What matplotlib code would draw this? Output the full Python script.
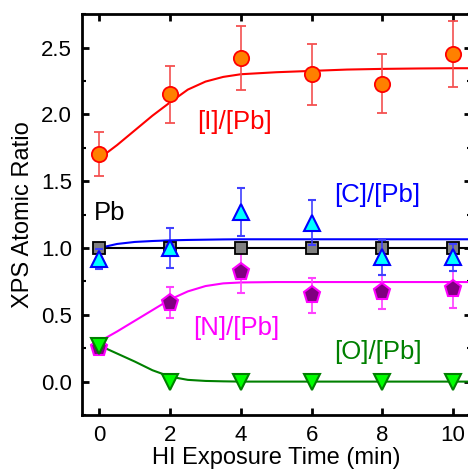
import numpy as np
import matplotlib.pyplot as plt

plt.rcParams['font.family'] = ['Liberation Sans', 'DejaVu Sans']

# measured points
time = [0, 2, 4, 6, 8, 10]
i_pb = [1.70, 2.15, 2.42, 2.30, 2.23, 2.45]
i_err = [0.165, 0.215, 0.24, 0.23, 0.22, 0.245]
c_pb = [0.92, 1.00, 1.27, 1.19, 0.93, 0.93]
c_err = [0.075, 0.15, 0.18, 0.17, 0.13, 0.10]
pb_pb = [1.0, 1.0, 1.0, 1.0, 1.0, 1.0]
n_pb = [0.25, 0.59, 0.82, 0.645, 0.67, 0.69]
n_err = [0.03, 0.115, 0.155, 0.13, 0.13, 0.14]
o_pb = [0.27, 0.0, 0.0, 0.0, 0.0, 0.0]

# fit curves
fit_t = [0, 0.5, 1, 1.5, 2, 2.5, 3, 3.5, 4, 5, 6, 7, 8, 9, 10, 10.6]
i_fit = [1.67, 1.77, 1.88, 1.99, 2.09, 2.185, 2.245, 2.28, 2.30, 2.315,
         2.325, 2.335, 2.34, 2.343, 2.345, 2.345]
c_fit = [1.0, 1.03, 1.045, 1.052, 1.057, 1.060, 1.062, 1.064, 1.065, 1.065,
         1.065, 1.065, 1.065, 1.065, 1.065, 1.065]
pb_fit = [1.0] * len(fit_t)
n_fit = [0.30, 0.375, 0.455, 0.535, 0.615, 0.675, 0.715, 0.735, 0.742, 0.745,
         0.745, 0.745, 0.745, 0.745, 0.745, 0.745]
o_fit = [0.27, 0.21, 0.15, 0.085, 0.037, 0.013, 0.005, 0.002, 0.0, 0.0,
         0.0, 0.0, 0.0, 0.0, 0.0, 0.0]

fig = plt.figure(figsize=(4.68, 4.70), dpi=100)
ax = fig.add_axes([0.1746, 0.117, 0.8314, 0.853])

# fits
ax.plot(fit_t, pb_fit, color='black', lw=1.5, zorder=2)
ax.plot(fit_t, c_fit, color='#0000ff', lw=1.5, zorder=2)
ax.plot(fit_t, i_fit, color='#ff0000', lw=1.5, zorder=2)
ax.plot(fit_t, n_fit, color='#ff00ff', lw=1.5, zorder=2)
ax.plot(fit_t, o_fit, color='#008000', lw=1.5, zorder=2)

# data
ax.errorbar(time, pb_pb, fmt='s', ms=8.5, mfc='#808080', mec='black', mew=1.3,
            zorder=4)
ax.errorbar(time, i_pb, yerr=i_err, fmt='o', ms=11, mfc='#ff8000',
            mec='#ff0000', mew=1.3, ecolor='#f45050', elinewidth=1.2,
            capsize=3.5, zorder=4)
ax.errorbar(time, c_pb, yerr=c_err, fmt='^', ms=12, mfc='#00ffff',
            mec='#0000ff', mew=1.5, ecolor='#4040ff', elinewidth=1.2,
            capsize=3, zorder=5)
ax.errorbar(time, n_pb, yerr=n_err, fmt='p', ms=12.5, mfc='#800080',
            mec='#ff00ff', mew=1.5, ecolor='#ff40ff', elinewidth=1.2,
            capsize=3, zorder=4)
ax.errorbar(time, o_pb, fmt='v', ms=12, mfc='#00ff00', mec='#008000',
            mew=1.5, zorder=6)

ax.text(2.77, 1.94, '[I]/[Pb]', color='#ff0000', fontsize=18.5, va='center')
ax.text(6.64, 1.40, '[C]/[Pb]', color='#0000ff', fontsize=18.5, va='center')
ax.text(-0.17, 1.26, 'Pb', color='black', fontsize=18.5, va='center')
ax.text(2.66, 0.40, '[N]/[Pb]', color='#ff00ff', fontsize=18.5, va='center')
ax.text(6.64, 0.22, '[O]/[Pb]', color='#008000', fontsize=18.5, va='center')

ax.set_xlim(-0.5, 10.5)
ax.set_ylim(-0.25, 2.75)
ax.set_xticks([0, 2, 4, 6, 8, 10])
ax.set_yticks([0.0, 0.5, 1.0, 1.5, 2.0, 2.5])
ax.set_yticklabels(['0.0', '0.5', '1.0', '1.5', '2.0', '2.5'])
ax.set_yticks(np.arange(-0.25, 2.76, 0.25), minor=True)
ax.tick_params(axis='both', which='major', direction='in', length=5, width=2,
               labelsize=16, top=True, right=True, pad=7)
ax.tick_params(axis='y', which='minor', direction='in', length=3, width=1.5,
               right=True)
for s in ax.spines.values():
    s.set_linewidth(2)

ax.set_xlabel('HI Exposure Time (min)', fontsize=17, labelpad=1)
ax.set_ylabel('XPS Atomic Ratio', fontsize=17, labelpad=5)

fig.savefig('out.png', dpi=100)
